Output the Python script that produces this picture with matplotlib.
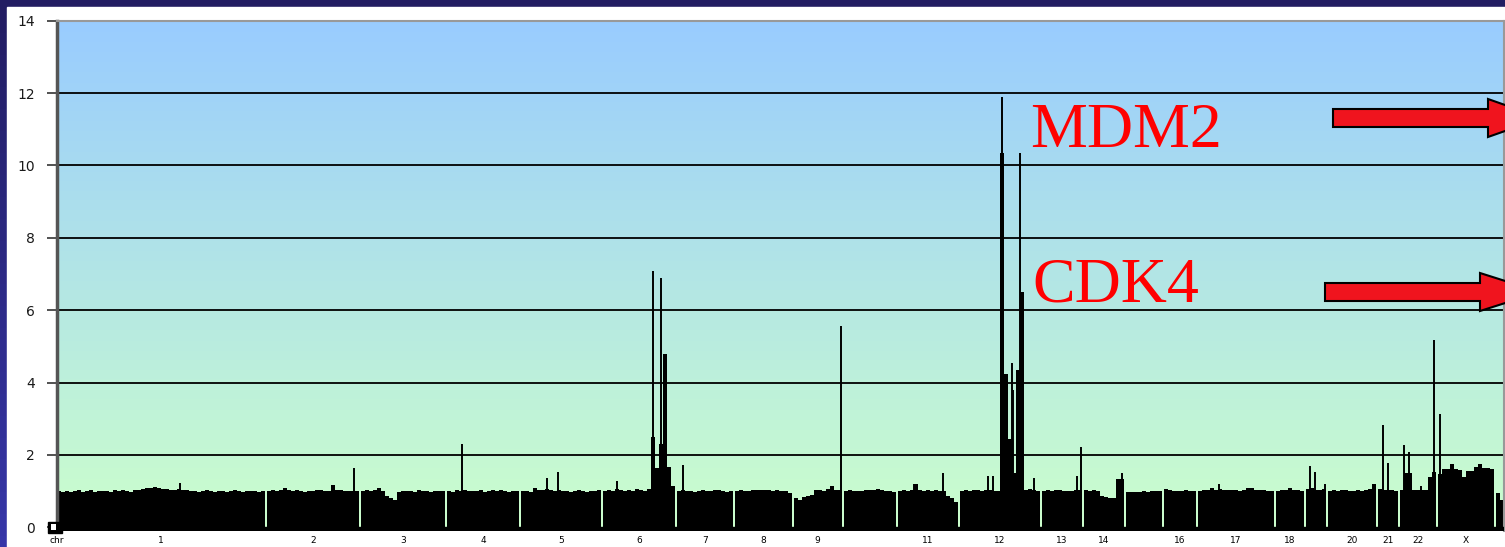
import numpy as np
import matplotlib.pyplot as plt
from matplotlib.colors import LinearSegmentedColormap
from matplotlib.patches import Polygon, Rectangle

# copy number per genomic bin, one list per chromosome
chr1 = [1.0, 0.99, 1.01, 0.98, 1.0, 1.02, 0.99, 1.0, 1.03, 0.98, 1.0, 1.01, 1.0,
        0.99, 1.02, 1.0, 1.03, 1.0, 0.99, 1.02, 1.04, 1.06, 1.1, 1.08, 1.12, 1.09,
        1.07, 1.05, 1.02, 1.04, 1.06, 1.03, 1.02, 1.0, 1.01, 0.99, 1.0, 1.02, 1.0,
        0.99, 1.0, 1.01, 0.98, 1.0, 1.02, 1.0, 0.99, 1.0, 1.01, 1.0, 0.99, 1.0]
chr2 = [1.0, 1.02, 1.0, 1.04, 1.1, 1.03, 1.0, 1.02, 1.0, 0.99, 1.01, 1.0, 1.02,
        1.03, 1.0, 1.01, 1.16, 1.04, 1.02, 1.0, 1.01, 1.0, 1.0]
chr3 = [1.0, 1.02, 1.0, 1.03, 1.08, 1.0, 0.88, 0.8, 0.76, 0.98, 1.01, 1.0, 1.0,
        0.99, 1.02, 1.0, 1.0, 0.98, 1.0, 1.01, 1.0]
chr4 = [1.0, 0.99, 1.02, 1.0, 1.03, 1.0, 1.01, 1.0, 1.02, 0.99, 1.0, 1.03, 1.0,
        1.02, 1.0, 0.99, 1.01, 1.0]
chr5 = [1.0, 1.01, 0.99, 1.08, 1.02, 1.04, 1.05, 1.02, 1.0, 1.03, 1.0, 1.01, 0.99,
        1.0, 1.02, 1.0, 0.99, 1.01, 1.0, 1.03]
chr6 = [1.0, 1.02, 1.0, 1.05, 1.02, 1.0, 1.03, 1.0, 1.06, 1.02, 1.0, 1.05, 2.5,
        1.65, 2.3, 4.78, 1.67, 1.14]
chr7 = [1.0, 1.02, 1.0, 1.01, 0.99, 1.0, 1.02, 1.01, 1.0, 1.03, 1.02, 1.0, 0.99, 1.01]
chr8 = [1.0, 1.02, 1.0, 1.01, 1.03, 1.03, 1.02, 1.03, 1.02, 1.0, 1.02, 1.01, 1.0, 0.96]
chr9 = [0.8, 0.77, 0.84, 0.86, 0.9, 1.02, 1.03, 1.0, 1.05, 1.15, 1.03, 1.02]
chr10 = [1.0, 1.02, 1.0, 1.01, 1.0, 1.03, 1.02, 1.04, 1.06, 1.02, 1.0, 1.01, 0.99]
chr11 = [1.0, 1.02, 1.0, 1.03, 1.2, 1.02, 1.0, 1.03, 1.0, 1.02, 1.0, 1.01, 0.88,
         0.8, 0.7]
chr12 = [1.0, 1.03, 1.0, 1.04, 1.02, 1.0, 1.03, 1.02, 1.0, 1.01, 10.35, 4.24, 2.45,
         1.5, 4.35, 6.5, 1.03, 1.05, 1.02, 1.0]
chr13 = [1.0, 1.02, 1.0, 1.03, 1.02, 1.0, 1.01, 1.0, 1.03, 1.02]
chr14 = [1.02, 1.0, 1.03, 1.0, 0.88, 0.85, 0.82, 0.8, 1.33, 1.35]
chr15 = [0.97, 0.98, 0.99, 0.98, 1.0, 0.99, 1.0, 1.0, 1.0]
chr16 = [1.05, 1.02, 1.0, 1.01, 1.0, 1.02, 1.01, 1.0]
chr17 = [1.0, 1.02, 1.04, 1.08, 1.03, 1.06, 1.04, 1.02, 1.03, 1.02, 1.01, 1.03,
         1.1, 1.08, 1.02, 1.03, 1.02, 1.01, 1.0]
chr18 = [1.0, 1.02, 1.03, 1.1, 1.02, 1.03, 1.0]
chr19 = [1.05, 1.1, 1.04, 1.02, 1.05]
chr20 = [1.0, 1.02, 1.0, 1.03, 1.02, 1.0, 1.01, 1.02, 1.0, 1.03, 1.05, 1.2]
chr21 = [1.05, 1.02, 1.03, 1.02, 1.0]
chr22 = [1.03, 1.5, 1.5, 1.03, 1.02, 1.03, 1.03, 1.39, 1.54]
chrX = [1.48, 1.6, 1.62, 1.76, 1.6, 1.58, 1.38, 1.55, 1.57, 1.66, 1.75, 1.64, 1.63, 1.62]
chrY = [0.96, 0.76, 0.3]

chrom_names = ['1', '2', '3', '4', '5', '6', '7', '8', '9', '10', '11', '12',
               '13', '14', '15', '16', '17', '18', '19', '20', '21', '22', 'X', 'Y']
chrom_values = [chr1, chr2, chr3, chr4, chr5, chr6, chr7, chr8, chr9, chr10, chr11,
                chr12, chr13, chr14, chr15, chr16, chr17, chr18, chr19, chr20,
                chr21, chr22, chrX, chrY]

# single-probe peaks: chromosome, bin offset inside it, copy number
peak_chrom = ['1', '2', '4', '5', '5', '6', '6', '6', '7', '9', '11', '11', '12',
              '12', '12', '12', '12', '12', '12', '13', '13', '14', '17', '19', '19',
              '19', '21', '21', '22', '22', '22', '22', 'X']
peak_offset = [30.75, 21.75, 3.75, 6.5, 9.25, 3.5, 12.5, 14.5, 1.5, 11.75, 4.0, 11.25,
               7.0, 8.25, 10.7, 13.0, 13.4, 15.0, 18.5, 8.75, 9.75, 9.5, 5.25, 1.0,
               2.25, 4.8, 1.25, 2.5, 1.1, 2.25, 5.25, 8.5, 0.5]
peak_height = [1.22, 1.65, 2.31, 1.36, 1.54, 1.27, 7.09, 6.89, 1.72, 5.56, 1.2, 1.51,
               1.42, 1.42, 11.9, 4.54, 3.8, 10.35, 1.37, 1.42, 2.23, 1.5, 1.19, 1.7,
               1.54, 1.2, 2.83, 1.77, 2.28, 2.07, 1.13, 5.18, 3.13]

labelled = ['1', '2', '3', '4', '5', '6', '7', '8', '9', '11', '12', '13', '14',
            '16', '17', '18', '20', '21', '22', 'X']

W, H = 1505, 547
gap = 0.5
floor = -0.1

fig = plt.figure(figsize=(W / 100, H / 100), dpi=100)

# slide background: navy frame and white panel
bg = fig.add_axes([0, 0, 1, 1])
bg.set_xlim(0, W)
bg.set_ylim(H, 0)
bg.axis('off')
navy = LinearSegmentedColormap.from_list('navy', ['#221d62', '#3636a8'])
bg.imshow(np.linspace(0, 1, 50).reshape(-1, 1), cmap=navy, aspect='auto',
          extent=[0, W, H, 0])
bg.add_patch(Rectangle((7, 7), W, H, color='white'))

# layout of chromosomes along x
starts = []
pos = 0.0
for vals in chrom_values:
    starts.append(pos)
    pos += len(vals) + gap
start_of = dict(zip(chrom_names, starts))

ax = fig.add_axes([57 / W, 1 - 531 / H, (1504 - 57) / W, (531 - 20.7) / H])
xmax = 361.5

sky = LinearSegmentedColormap.from_list('sky', ['#ccffcc', '#99ccff'])
ax.imshow(np.linspace(0, 1, 200).reshape(-1, 1), cmap=sky, origin='lower',
          aspect='auto', extent=[0, xmax, floor, 14], zorder=0)

ax.hlines(range(2, 13, 2), 0, xmax, color='black', lw=1.3, zorder=1)

for name, vals in zip(chrom_names, chrom_values):
    edges = start_of[name] + np.arange(len(vals) + 1)
    ax.stairs(vals, edges, baseline=floor, fill=True, color='black', zorder=2)

px = [start_of[c] + o for c, o in zip(peak_chrom, peak_offset)]
ax.vlines(px, floor, peak_height, color='black', lw=1.4, zorder=2)
ax.axhspan(floor, 0, color='black', zorder=3)

ax.set_xlim(0, xmax)
ax.set_ylim(floor, 14)
ax.set_xticks([])
ax.set_yticks(range(0, 15, 2))
ax.tick_params(axis='y', length=7, width=1.2, color='#333333', pad=9,
               labelsize=10, labelcolor='#1a1a1a')
ax.spines['bottom'].set_visible(False)
ax.spines['left'].set_color('#555555')
ax.spines['left'].set_linewidth(2.5)
for s in ['top', 'right']:
    ax.spines[s].set_color('#999999')
    ax.spines[s].set_linewidth(1.5)

# chromosome labels under the axis
lab_tr = ax.get_xaxis_transform()
for name, vals in zip(chrom_names, chrom_values):
    if name in labelled:
        ax.text(start_of[name] + len(vals) / 2, -0.009, name, transform=lab_tr,
                ha='center', va='top', fontsize=6.5, color='black', clip_on=False)
ax.text(0, -0.009, 'chr', transform=lab_tr, ha='center', va='top', fontsize=6.5,
        color='black', clip_on=False)

# annotations
ov = fig.add_axes([0, 0, 1, 1])
ov.set_xlim(0, W)
ov.set_ylim(H, 0)
ov.axis('off')
ov.patch.set_alpha(0)
ov.add_patch(Rectangle((48, 522), 14, 11, facecolor='black', edgecolor='black', lw=1))
ov.add_patch(Rectangle((51, 524), 5, 6, facecolor='white', edgecolor='none'))
ov.text(1030, 147, 'MDM2', fontfamily='Liberation Serif', fontsize=46,
        color='#ff0000', va='baseline')
ov.text(1032, 301, 'CDK4', fontfamily='Liberation Serif', fontsize=46,
        color='#ff0000', va='baseline')
arrow1 = [(1333, 109), (1488, 109), (1488, 99), (1542, 118), (1488, 137),
          (1488, 127), (1333, 127)]
arrow2 = [(1325, 283), (1480, 283), (1480, 273), (1540, 292), (1480, 311),
          (1480, 301), (1325, 301)]
for pts in [arrow1, arrow2]:
    ov.add_patch(Polygon(pts, closed=True, facecolor='#f0141e', edgecolor='black',
                         lw=1.5, clip_on=False))

fig.savefig('out.png', dpi=100)
